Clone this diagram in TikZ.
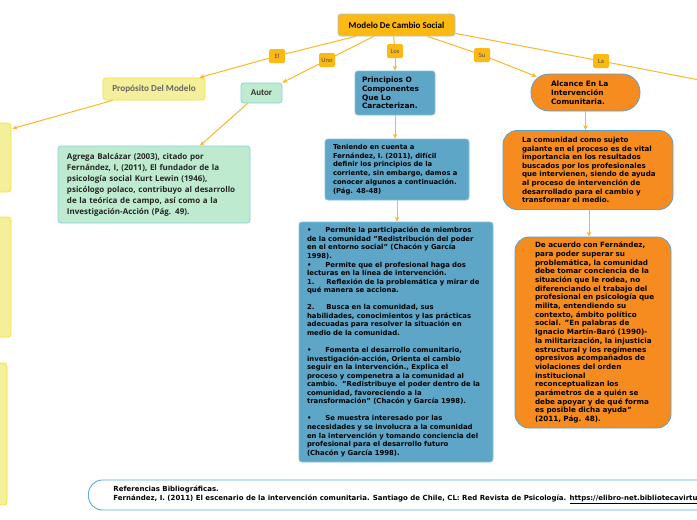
\documentclass[tikz,border=0pt]{standalone}
\usepackage{fontspec}
\setmainfont{DejaVu Sans}
\newfontfamily\carl{Carlito}
\newfontfamily\opens{Open Sans}
\usetikzlibrary{arrows.meta,calc}
\definecolor{mainor}{HTML}{FDB913}
\definecolor{lineor}{HTML}{FBB829}
\definecolor{mainbd}{HTML}{A8C6D2}
\definecolor{yelfill}{HTML}{F3EF9A}
\definecolor{yelbd}{HTML}{F6E23C}
\definecolor{grnfill}{HTML}{BEEBCF}
\definecolor{grnbd}{HTML}{8BCFE2}
\definecolor{bluefill}{HTML}{5EA6C8}
\definecolor{bluebd}{HTML}{86BEDA}
\definecolor{orfill}{HTML}{F68C1F}
\definecolor{orbd}{HTML}{4EA4DE}
\definecolor{refbd}{HTML}{5AACE0}
\begin{document}
\begin{tikzpicture}[x=1pt,y=-1pt,
  conn/.style={draw=lineor, line width=1pt},
  arr/.style={conn, -{Stealth[length=5pt,width=4.5pt]}},
  lbl/.style={fill=mainor, rounded corners=1.5pt, font=\carl\fontsize{6.5}{7}\selectfont, text=black!70, inner sep=2pt, minimum height=14pt, minimum width=16pt},
  boxbase/.style={rounded corners=3pt, line width=0.8pt, inner xsep=4pt, inner ysep=4pt},
  btext/.style={font=\fontsize{6.5}{8.6}\selectfont\bfseries, align=left, text=black},
  yelbox/.style={boxbase, fill=yelfill, draw=yelbd},
  bluebox/.style={boxbase, fill=bluefill, draw=bluebd, btext},
  orbox/.style={boxbase, fill=orfill, draw=orbd, btext, rounded corners=14pt}
]
\clip (0,0) rectangle (697,520);
\fill[white] (0,0) rectangle (697,520);

% left yellow boxes (cut off)
\node[yelbox, minimum width=71pt, minimum height=69pt] (box1) at (-24.5,157.5) {};
\node[yelbox, minimum width=71pt, minimum height=120pt] (box2) at (-24.5,277) {};
\node[yelbox, minimum width=67pt, minimum height=142pt] (box3) at (-26.5,434) {};

% main
\node[boxbase, fill=mainor, draw=mainbd, minimum width=117pt, minimum height=22pt,
  font=\carl\bfseries\fontsize{9}{10}\selectfont] (main) at (396.5,25) {Modelo De Cambio Social};

\node[yelbox, minimum width=102pt, minimum height=22pt, text=black!60,
  font=\carl\bfseries\fontsize{9.2}{10}\selectfont] (prop) at (154,89) {Propósito Del Modelo};
\node[boxbase, fill=grnfill, draw=grnbd, minimum width=41pt, minimum height=20pt, text=black!80,
  font=\carl\bfseries\fontsize{9}{10}\selectfont] (autor) at (261.5,93) {Autor};
\node[bluebox, minimum width=80pt, text width=72pt, minimum height=44pt, font=\fontsize{7.4}{8.8}\selectfont\bfseries] (prin) at (395,93)
  {\leftskip=3pt Principios O\\Componentes\\Que Lo\\Caracterizan.\par};
\node[orbox, rounded corners=18pt, minimum width=109pt, text width=101pt, minimum height=37pt, font=\fontsize{7.4}{8.8}\selectfont\bfseries] (alc) at (585.5,92.5)
  {\leftskip=16pt Alcance En La\\Intervención\\Comunitaria.\par};

% labels
\node[lbl] (lEl) at (277,56) {El};
\node[lbl] (lUno) at (327,60) {Uno};
\node[lbl] (lLos) at (395,51) {Los};
\node[lbl] (lSu) at (482,55) {Su};
\node[lbl] (lLa) at (601,61) {La};
\coordinate (laend) at (720,84);

% green box
\node[boxbase, fill=grnfill, draw=grnbd, minimum width=192pt, text width=184pt, minimum height=77pt, align=left,
  font=\opens\bfseries\fontsize{8}{11}\selectfont, text=black!85] (grn) at (154,184.5)
  {\leftskip=5pt Agrega Balcázar (2003), citado por\\
   Fernández, I, (2011), El fundador de la\\
   psicología social Kurt Lewin (1946),\\
   psicólogo polaco, contribuyo al desarrollo\\
   de la teórica de campo, así como a la\\
   Investigación-Acción (Pág. 49).\par};

% blue boxes
\node[bluebox, minimum width=144pt, text width=136pt, minimum height=61pt, font=\fontsize{6.8}{8.8}\selectfont\bfseries] (ten) at (397,169.5)
  {\leftskip=4pt Teniendo en cuenta a\\
   Fernández, I. (2011), difícil\\
   definir los principios de la\\
   corriente, sin embargo, damos a\\
   conocer algunos a continuación.\\
   (Pág. 48-48)\par};

\node[bluebox, minimum width=192pt, text width=186pt, minimum height=240pt, font=\fontsize{6.9}{8.55}\selectfont\bfseries] (big) at (396,342)
  {\leftskip=4pt •\hspace{14pt}Permite la participación de miembros\\
   de la comunidad "Redistribución del poder\\
   en el entorno social" (Chacón y García\\
   1998).\\
   •\hspace{14pt}Permite que el profesional haga dos\\
   lecturas en la línea de intervención.\\
   1.\hspace{12pt}Reflexión de la problemática y mirar de\\
   qué manera se acciona.\\[8.55pt]
   2.\hspace{12pt}Busca en la comunidad, sus\\
   habilidades, conocimientos y las prácticas\\
   adecuadas para resolver la situación en\\
   medio de la comunidad.\\[8.55pt]
   •\hspace{14pt}Fomenta el desarrollo comunitario,\\
   investigación-acción, Orienta el cambio\\
   seguir en la intervención., Explica el\\
   proceso y compenetra a la comunidad al\\
   cambio.\ \ "Redistribuye el poder dentro de la\\
   comunidad, favoreciendo a la\\
   transformación" (Chacón y García 1998).\\[8.55pt]
   •\hspace{14pt}Se muestra interesado por las\\
   necesidades y se involucra a la comunidad\\
   en la intervención y tomando conciencia del\\
   profesional para el desarrollo futuro\\
   (Chacón y García 1998).\par};

% orange boxes
\node[orbox, minimum width=170pt, text width=162pt, minimum height=79pt, font=\fontsize{7.1}{8.6}\selectfont\bfseries] (or1) at (588,170)
  {\leftskip=15pt La comunidad como sujeto\\
   galante en el proceso es de vital\\
   importancia en los resultados\\
   buscados por los profesionales\\
   que intervienen, siendo de ayuda\\
   al proceso de intervención de\\
   desarrollado para el cambio y\\
   transformar el medio.\par};

\node[orbox, minimum width=156pt, text width=148pt, minimum height=191pt, font=\fontsize{7.2}{8.7}\selectfont\bfseries] (or2) at (593,332.5)
  {\leftskip=16pt De acuerdo con Fernández,\\
   para poder superar su\\
   problemática, la comunidad\\
   debe tomar conciencia de la\\
   situación que le rodea, no\\
   diferenciando el trabajo del\\
   profesional en psicología que\\
   milita, entendiendo su\\
   contexto, ámbito político\\
   social. "En palabras de\\
   Ignacio Martín-Baró (1990)-\\
   la militarización, la injusticia\\
   estructural y los regímenes\\
   opresivos acompañados de\\
   violaciones del orden\\
   institucional\\
   reconceptualizan los\\
   parámetros de a quién se\\
   debe apoyar y de qué forma\\
   es posible dicha ayuda"\\
   (2011, Pág. 48).\par};

% reference box
\node[draw=refbd, line width=0.9pt, fill=white, rounded corners=14pt, anchor=west,
  inner xsep=25pt, minimum height=30pt, align=left,
  font=\fontsize{7}{9}\selectfont\bfseries] (ref) at (88,495)
  {Referencias Bibliográficas.\\
   Fernández, I. (2011) El escenario de la intervención comunitaria. Santiago de Chile, CL: Red Revista de Psicología. \underline{https://elibro-net.bibliotecavirtual.unad.edu.co}};

% connectors
\draw[conn] ($(main.south west)+(18,0)$) -- (lEl);
\draw[arr] (lEl) -- ($(prop.north east)+(-6,0)$);
\draw[conn] ($(main.south west)+(36,0)$) -- (lUno);
\draw[arr] (lUno) -- (autor.north east);
\draw[conn] ($(main.south west)+(56,0)$) -- (lLos);
\draw[arr] (lLos) -- (prin.north);
\draw[conn] ($(main.south west)+(90,0)$) -- (lSu);
\draw[arr] (lSu) -- ($(alc.north west)+(6,3)$);
\draw[conn] ($(main.south east)+(0,-3)$) -- (lLa);
\draw[conn] (lLa) -- (laend);
\draw[arr] ($(prop.south west)+(10,0)$) -- ($(box1.north east)+(1,6)$);
\draw[arr] ($(autor.south west)+(7,0)$) -- ($(grn.north)+(46,0)$);
\draw[arr] (prin.south) -- (ten.north -| prin.south);
\draw[arr] (ten.south) -- (big.north -| ten.south);
\draw[arr] (alc.south) -- (or1.north -| alc.south);
\draw[arr] ($(or1.south)+(1,0)$) -- ($(or1.south |- or2.north)+(1,0)$);
\end{tikzpicture}
\end{document}
